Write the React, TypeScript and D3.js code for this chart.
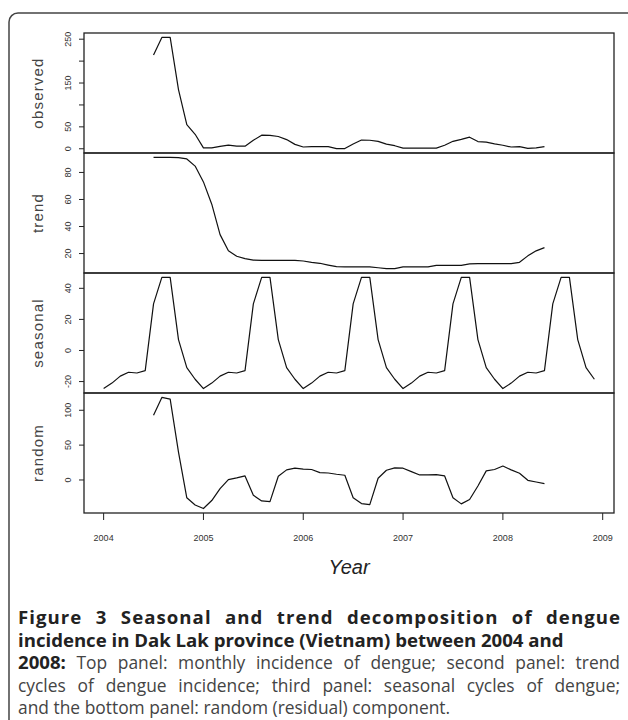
import React from 'react';
import * as d3 from 'd3';

// monthly series, observed/trend/random start Jul 2004, seasonal starts Jan 2004
const observedStart = 2004.5;
const seasonalStart = 2004;

const observed = [
  214, 254, 254, 135, 55, 33,
  2, 2, 5.5, 8.5, 6, 6, 19.5, 31, 30.5, 28, 21, 10,
  4, 5, 5, 5, 0.5, 0.5, 11, 20, 19.5, 17, 10.5, 7,
  1.5, 1.5, 1.5, 1.5, 1.5, 8, 17, 21.5, 26.5, 16.5, 15, 11,
  8, 4, 5, 1, 2, 5,
];

const trend = [
  91.1, 91.1, 91.1, 91, 90, 84.7,
  73, 56.5, 34, 22, 18, 16.3, 15.2, 15, 15, 15, 15, 15,
  14.5, 13.5, 12.8, 11.5, 10.3, 10.1, 10.1, 10.1, 10.1, 9.5, 8.9, 8.9,
  10.1, 10.1, 10.1, 10.1, 11.3, 11.3, 11.3, 11.3, 12.3, 12.6, 12.6, 12.6,
  12.6, 12.6, 13.5, 18.3, 22, 24.4,
];

const seasonal = [
  -24.5, -21, -16.5, -14, -14.5, -13, 30, 47, 47, 7, -11, -18.5,
  -24.5, -21, -16.5, -14, -14.5, -13, 30, 47, 47, 7, -11, -18.5,
  -24.5, -21, -16.5, -14, -14.5, -13, 30, 47, 47, 7, -11, -18.5,
  -24.5, -21, -16.5, -14, -14.5, -13, 30, 47, 47, 7, -11, -18.5,
  -24.5, -21, -16.5, -14, -14.5, -13, 30, 47, 47, 7, -11, -18.5,
];

const random = [
  92.8, 118.4, 116, 40, -25.6, -35.8,
  -41, -29.5, -12.5, 0.5, 2.9, 5.8, -22, -30, -31, 5.3, 14.5, 16.9,
  15.5, 15, 10.6, 10, 8.2, 6.8, -25.6, -33.8, -35.3, 2.4, 14, 17.4,
  16.9, 12, 7.2, 7.2, 7.7, 5.8, -25.6, -34.3, -28, -8.7, 13, 15,
  20, 14.5, 9.7, -0.5, -2.9, -5.3,
];

const panelNames = ['observed', 'trend', 'seasonal', 'random'];
const observedTicks = [0, 50, 100, 150, 200, 250];
const observedTickLabels = [0, 50, 150, 250];
const trendTicks = [20, 40, 60, 80];
const seasonalTicks = [-20, 0, 20, 40];
const randomTicks = [0, 50, 100];
const yearTicks = [2004, 2005, 2006, 2007, 2008, 2009];

// caption lines: [bold lead, regular rest, justify?]
const captionLines: [string, string, boolean][] = [
  ['Figure 3 Seasonal and trend decomposition of dengue', '', true],
  ['incidence in Dak Lak province (Vietnam) between 2004 and', '', false],
  ['2008:', ' Top panel: monthly incidence of dengue; second panel: trend', true],
  ['', 'cycles of dengue incidence; third panel: seasonal cycles of dengue;', true],
  ['', 'and the bottom panel: random (residual) component.', false],
];

const W = 628;
const H = 720;
const left = 84;
const right = 614;
const top = 33;
const panelH = 120;
const capLeft = 18;
const capRight = 620;
const capTop = 624;
const capStep = 22.5;

type Pt = [number, number];

const toPoints = (vals: number[], start: number): Pt[] =>
  vals.map((v, i) => [start + i / 12, v]);

// R-style axis range: data extent padded by 4%
const padded = (lo: number, hi: number): [number, number] => {
  const p = (hi - lo) * 0.04;
  return [lo - p, hi + p];
};

const App: React.FC = () => {
  const capRefs = React.useRef<(SVGTextElement | null)[]>([]);
  const [spacing, setSpacing] = React.useState<{ word: number; letter: number }[]>(
    captionLines.map(() => ({ word: 0, letter: 0 })));

  React.useLayoutEffect(() => {
    // justify: the first line shares the slack between letters and words, the others use word gaps only
    const next = captionLines.map(([a, b, just], i) => {
      const el = capRefs.current[i];
      if (!el || !just) return { word: 0, letter: 0 };
      const text = (a + b).trim();
      const natural = el.getComputedTextLength();
      const gaps = text.split(/\s+/).length - 1;
      const slack = Math.max(0, capRight - capLeft - natural);
      if (i === 0) {
        const letter = (slack * 0.5) / (text.length - 1);
        const word = (slack - letter * (text.length - 1)) / gaps;
        return { word, letter };
      }
      return { word: gaps > 0 ? slack / gaps : 0, letter: 0 };
    });
    setSpacing(next);
  }, []);

  const series = [
    { name: panelNames[0], pts: toPoints(observed, observedStart), ticks: observedTicks, labels: observedTickLabels },
    { name: panelNames[1], pts: toPoints(trend, observedStart), ticks: trendTicks, labels: trendTicks },
    { name: panelNames[2], pts: toPoints(seasonal, seasonalStart), ticks: seasonalTicks, labels: seasonalTicks },
    { name: panelNames[3], pts: toPoints(random, observedStart), ticks: randomTicks, labels: randomTicks },
  ];

  const allT = series.flatMap(s => s.pts.map(p => p[0]));
  const x = d3.scaleLinear()
    .domain(padded(d3.min(allT) as number, d3.max(allT) as number))
    .range([left, right]);

  const bottom = top + panelH * series.length;

  return (
    <svg width={W} height={H} style={{ position: 'absolute', left: 0, top: 0, background: '#fff' }}
      fontFamily="'Liberation Sans', Arial, sans-serif">
      <rect x={9} y={13} width={W + 20} height={H + 20} rx={9} fill="none" stroke="#444" strokeWidth={1.5} />

      {series.map((s, k) => {
        const y0 = top + k * panelH;
        const ext = d3.extent(s.pts, p => p[1]) as [number, number];
        const y = d3.scaleLinear().domain(padded(ext[0], ext[1])).range([y0 + panelH, y0]);
        const line = d3.line<Pt>().x(p => x(p[0])).y(p => y(p[1]));
        return (
          <g key={s.name}>
            <path d={line(s.pts) || ''} fill="none" stroke="#111" strokeWidth={1.2} strokeLinejoin="round" />
            <rect x={left} y={y0} width={right - left} height={panelH} fill="none" stroke="#222" strokeWidth={1.3} />
            {s.ticks.map(t => (
              <line key={t} x1={left} x2={left - 5} y1={y(t)} y2={y(t)} stroke="#222" strokeWidth={1} />
            ))}
            {s.labels.map(t => (
              <text key={t} transform={`translate(${left - 13},${y(t)}) rotate(-90)`} textAnchor="middle"
                fontSize={9} fill="#333">{t}</text>
            ))}
            <text transform={`translate(43,${y0 + panelH / 2}) rotate(-90)`} textAnchor="middle"
              fontSize={15} letterSpacing={1.2} fill="#444">{s.name}</text>
          </g>
        );
      })}

      {yearTicks.map(t => (
        <g key={t}>
          <line x1={x(t)} x2={x(t)} y1={bottom} y2={bottom + 7} stroke="#222" strokeWidth={1} />
          <text x={x(t)} y={bottom + 28} textAnchor="middle" fontSize={9} fill="#333">{t}</text>
        </g>
      ))}
      <text x={(left + right) / 2} y={574} textAnchor="middle" fontSize={20} fontStyle="italic" fill="#222">Year</text>

      <g fontFamily="'Open Sans', 'Noto Sans', sans-serif" fontSize={17.4}>
        {captionLines.map(([bold, rest], i) => (
          <text key={i} ref={el => { capRefs.current[i] = el; }} x={capLeft} y={capTop + i * capStep}
            wordSpacing={spacing[i].word} letterSpacing={spacing[i].letter} fill="#444" xmlSpace="preserve">
            {bold && <tspan fontWeight="bold" fontSize={18.6} fill="#222">{bold}</tspan>}
            {rest}
          </text>
        ))}
      </g>
    </svg>
  );
};

export default App;
